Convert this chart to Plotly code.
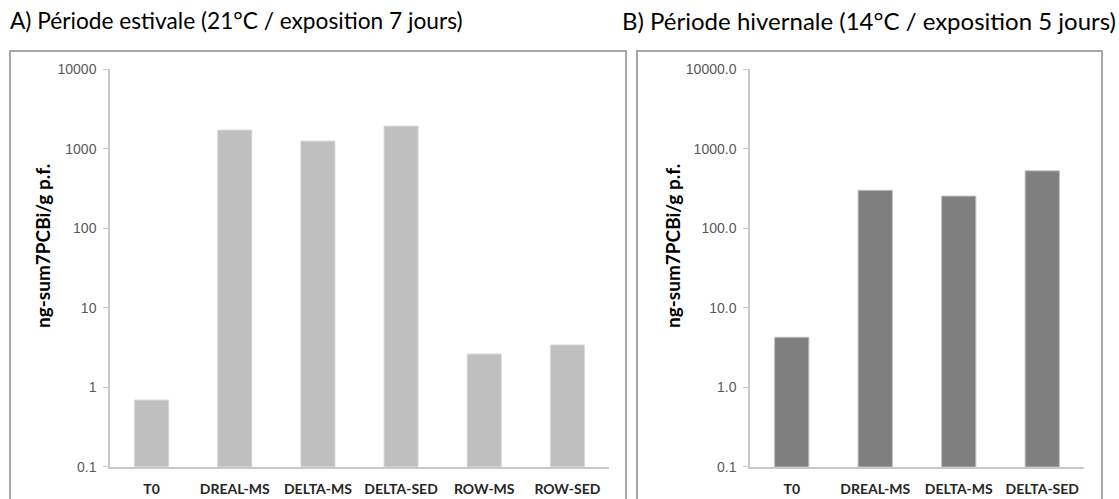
import plotly.graph_objects as go

# Summer exposure (21°C, 7 days)
summer_sites = ["T0", "DREAL-MS", "DELTA-MS", "DELTA-SED", "ROW-MS", "ROW-SED"]
summer_values = [0.69, 1720, 1250, 1930, 2.62, 3.40]

# Winter exposure (14°C, 5 days)
winter_sites = ["T0", "DREAL-MS", "DELTA-MS", "DELTA-SED"]
winter_values = [4.25, 300, 254, 528]

summer_ticks = ["0.1", "1", "10", "100", "1000", "10000"]
winter_ticks = ["0.1", "1.0", "10.0", "100.0", "1000.0", "10000.0"]
tick_vals = [0.1, 1, 10, 100, 1000, 10000]

W, H = 1119, 499


def px_x(v):
    return v / W


def px_y(v):
    return 1 - v / H


fig = go.Figure()

fig.add_trace(go.Bar(
    x=summer_sites, y=summer_values, xaxis="x", yaxis="y",
    marker=dict(color="#bfbfbf", line=dict(color="#d9d9d9", width=1)),
    showlegend=False, hoverinfo="x+y",
))
fig.add_trace(go.Bar(
    x=winter_sites, y=winter_values, xaxis="x2", yaxis="y2",
    marker=dict(color="#7f7f7f", line=dict(color="#bfbfbf", width=1)),
    showlegend=False, hoverinfo="x+y",
))

y_top, y_bot = 69.3, 466.7
ydom = [px_y(y_bot), px_y(y_top)]

axis_common = dict(
    showgrid=False, zeroline=False, showline=True, automargin=False,
    linecolor="#c8c8c8", linewidth=1.5,
)
cat_font = dict(family="Lato", size=14, color="#262626", weight="bold")
num_font = dict(family="Liberation Sans", size=14, color="#595959")

fig.update_layout(
    width=W, height=H,
    margin=dict(l=0, r=0, t=0, b=0, autoexpand=False),
    paper_bgcolor="white", plot_bgcolor="white",
    bargap=0.59,
    xaxis=dict(domain=[px_x(110), px_x(609)], anchor="y", ticks="",
               tickfont=cat_font, ticklabelstandoff=9, **axis_common),
    yaxis=dict(domain=ydom, anchor="x", type="log", range=[-1, 4],
               tickvals=tick_vals, ticktext=summer_ticks,
               ticks="outside", ticklen=5, tickcolor="#c8c8c8",
               tickfont=num_font, ticklabelstandoff=4, **axis_common),
    xaxis2=dict(domain=[px_x(750), px_x(1084)], anchor="y2", ticks="",
                tickfont=cat_font, ticklabelstandoff=9, **axis_common),
    yaxis2=dict(domain=ydom, anchor="x2", type="log", range=[-1, 4],
                tickvals=tick_vals, ticktext=winter_ticks,
                ticks="outside", ticklen=5, tickcolor="#c8c8c8",
                tickfont=num_font, ticklabelstandoff=4, **axis_common),
)

# Panel frames
for x0, x1 in [(10, 626), (637, 1102)]:
    fig.add_shape(type="rect", xref="paper", yref="paper",
                  x0=px_x(x0), x1=px_x(x1), y0=px_y(520), y1=px_y(51),
                  line=dict(color="#a6a6a6", width=2), fillcolor="rgba(0,0,0,0)",
                  layer="below")

# Panel titles
titles = [
    (8, "A) Période estivale (21°C / exposition 7 jours)", 22.7),
    (620, "B) Période hivernale (14°C / exposition 5 jours)", 24),
]
for x0, txt, fs in titles:
    fig.add_annotation(text=txt, xref="paper", yref="paper",
                       x=px_x(x0), y=px_y(20), xanchor="left", yanchor="middle",
                       showarrow=False,
                       font=dict(family="Lato", size=fs, color="#000000"))

# Y-axis titles
for xc in (42, 672):
    fig.add_annotation(text="ng-sum7PCBi/g p.f.", xref="paper", yref="paper",
                       x=px_x(xc), y=px_y(246), xanchor="center", yanchor="middle",
                       textangle=-90, showarrow=False,
                       font=dict(family="Lato", size=19, color="#000000", weight="bold"))

fig.write_html("out.html")
